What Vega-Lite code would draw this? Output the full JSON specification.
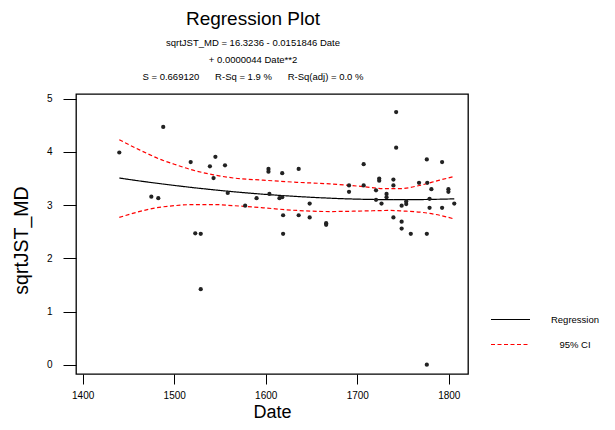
{
  "$schema": "https://vega.github.io/schema/vega-lite/v6.json",
  "width": 392,
  "height": 280,
  "autosize": "none",
  "padding": {"left": 76, "top": 94, "right": 147, "bottom": 56},
  "background": "white",
  "config": {
    "font": "Liberation Sans",
    "view": {"stroke": "black", "strokeWidth": 1.3},
    "legend": {
      "orient": "none",
      "legendX": 414,
      "legendY": 205,
      "symbolType": "stroke",
      "symbolSize": 1521,
      "symbolStrokeWidth": 1.2,
      "labelFontSize": 9.5,
      "labelColor": "black",
      "labelAlign": "center",
      "labelOffset": 44,
      "rowPadding": -19,
      "title": null
    }
  },
  "title": {
    "text": "Regression Plot",
    "subtitle": [
      "sqrtJST_MD = 16.3236 - 0.0151846 Date",
      "+ 0.0000044 Date**2",
      "S = 0.669120\u00a0\u00a0\u00a0\u00a0\u00a0\u00a0R-Sq = 1.9 %\u00a0\u00a0\u00a0\u00a0\u00a0\u00a0R-Sq(adj) = 0.0 %"
    ],
    "fontSize": 19,
    "fontWeight": "normal",
    "color": "black",
    "subtitleFontSize": 9.5,
    "subtitleColor": "black",
    "subtitleLineHeight": 17,
    "subtitlePadding": 9,
    "anchor": "middle",
    "frame": "group",
    "dx": -19,
    "offset": 12
  },
  "datasets": {
    "points": [
      {"Date": 1440, "value": 3.99}, {"Date": 1475, "value": 3.16}, {"Date": 1482.6, "value": 3.13},
      {"Date": 1488, "value": 4.47}, {"Date": 1518, "value": 3.81}, {"Date": 1523, "value": 2.47},
      {"Date": 1529, "value": 2.46}, {"Date": 1529, "value": 1.42}, {"Date": 1539, "value": 3.73},
      {"Date": 1543, "value": 3.51}, {"Date": 1545, "value": 3.91}, {"Date": 1555.5, "value": 3.75},
      {"Date": 1558.5, "value": 3.23}, {"Date": 1577.5, "value": 2.99}, {"Date": 1590, "value": 3.13},
      {"Date": 1603, "value": 3.68}, {"Date": 1603, "value": 3.63}, {"Date": 1604, "value": 3.21},
      {"Date": 1615, "value": 3.13}, {"Date": 1618, "value": 3.6}, {"Date": 1618, "value": 3.15},
      {"Date": 1619, "value": 2.81}, {"Date": 1619, "value": 2.46}, {"Date": 1636, "value": 3.68},
      {"Date": 1636, "value": 2.81}, {"Date": 1648, "value": 3.03}, {"Date": 1648, "value": 2.77},
      {"Date": 1666, "value": 2.66}, {"Date": 1666, "value": 2.63}, {"Date": 1691, "value": 3.37},
      {"Date": 1691, "value": 3.25}, {"Date": 1707, "value": 3.77}, {"Date": 1707, "value": 3.37},
      {"Date": 1720.5, "value": 3.28}, {"Date": 1720.5, "value": 3.1}, {"Date": 1724, "value": 3.5},
      {"Date": 1724, "value": 3.46}, {"Date": 1726.5, "value": 3.03}, {"Date": 1732, "value": 3.21},
      {"Date": 1732, "value": 3.15}, {"Date": 1739.5, "value": 3.48}, {"Date": 1739.5, "value": 3.37},
      {"Date": 1739.5, "value": 2.77}, {"Date": 1742.5, "value": 4.75}, {"Date": 1742.5, "value": 4.08},
      {"Date": 1748.5, "value": 2.99}, {"Date": 1748.5, "value": 2.69}, {"Date": 1748.5, "value": 2.56},
      {"Date": 1753.5, "value": 3.07}, {"Date": 1753.5, "value": 3.02}, {"Date": 1758.5, "value": 2.46},
      {"Date": 1767.5, "value": 3.42}, {"Date": 1776, "value": 3.86}, {"Date": 1776.5, "value": 3.42},
      {"Date": 1776, "value": 2.46}, {"Date": 1776, "value": 0.0}, {"Date": 1779, "value": 3.12},
      {"Date": 1779, "value": 2.95}, {"Date": 1781, "value": 3.3}, {"Date": 1792.7, "value": 3.81},
      {"Date": 1792.7, "value": 2.95}, {"Date": 1799.6, "value": 3.3}, {"Date": 1799.6, "value": 3.25},
      {"Date": 1806, "value": 3.03}
    ],
    "curves": [
      {"series": "Regression", "band": "fit", "Date": 1440, "value": 3.51},
      {"series": "Regression", "band": "fit", "Date": 1460, "value": 3.46},
      {"series": "Regression", "band": "fit", "Date": 1480, "value": 3.414},
      {"series": "Regression", "band": "fit", "Date": 1500, "value": 3.371},
      {"series": "Regression", "band": "fit", "Date": 1520, "value": 3.331},
      {"series": "Regression", "band": "fit", "Date": 1540, "value": 3.294},
      {"series": "Regression", "band": "fit", "Date": 1560, "value": 3.26},
      {"series": "Regression", "band": "fit", "Date": 1580, "value": 3.229},
      {"series": "Regression", "band": "fit", "Date": 1600, "value": 3.202},
      {"series": "Regression", "band": "fit", "Date": 1620, "value": 3.178},
      {"series": "Regression", "band": "fit", "Date": 1640, "value": 3.157},
      {"series": "Regression", "band": "fit", "Date": 1660, "value": 3.139},
      {"series": "Regression", "band": "fit", "Date": 1680, "value": 3.124},
      {"series": "Regression", "band": "fit", "Date": 1700, "value": 3.113},
      {"series": "Regression", "band": "fit", "Date": 1720, "value": 3.106},
      {"series": "Regression", "band": "fit", "Date": 1740, "value": 3.102},
      {"series": "Regression", "band": "fit", "Date": 1760, "value": 3.103},
      {"series": "Regression", "band": "fit", "Date": 1780, "value": 3.108},
      {"series": "Regression", "band": "fit", "Date": 1806, "value": 3.118},
      {"series": "95% CI", "band": "upper", "Date": 1440, "value": 4.23},
      {"series": "95% CI", "band": "upper", "Date": 1462, "value": 4.04},
      {"series": "95% CI", "band": "upper", "Date": 1488, "value": 3.84},
      {"series": "95% CI", "band": "upper", "Date": 1500, "value": 3.77},
      {"series": "95% CI", "band": "upper", "Date": 1518, "value": 3.67},
      {"series": "95% CI", "band": "upper", "Date": 1543, "value": 3.57},
      {"series": "95% CI", "band": "upper", "Date": 1565, "value": 3.51},
      {"series": "95% CI", "band": "upper", "Date": 1597, "value": 3.47},
      {"series": "95% CI", "band": "upper", "Date": 1634, "value": 3.43},
      {"series": "95% CI", "band": "upper", "Date": 1670, "value": 3.4},
      {"series": "95% CI", "band": "upper", "Date": 1706, "value": 3.35},
      {"series": "95% CI", "band": "upper", "Date": 1730, "value": 3.31},
      {"series": "95% CI", "band": "upper", "Date": 1747, "value": 3.31},
      {"series": "95% CI", "band": "upper", "Date": 1768, "value": 3.37},
      {"series": "95% CI", "band": "upper", "Date": 1790, "value": 3.47},
      {"series": "95% CI", "band": "upper", "Date": 1806, "value": 3.54},
      {"series": "95% CI", "band": "lower", "Date": 1440, "value": 2.77},
      {"series": "95% CI", "band": "lower", "Date": 1460, "value": 2.87},
      {"series": "95% CI", "band": "lower", "Date": 1477, "value": 2.94},
      {"series": "95% CI", "band": "lower", "Date": 1500, "value": 2.99},
      {"series": "95% CI", "band": "lower", "Date": 1520, "value": 3.01},
      {"series": "95% CI", "band": "lower", "Date": 1545, "value": 3.01},
      {"series": "95% CI", "band": "lower", "Date": 1565, "value": 2.99},
      {"series": "95% CI", "band": "lower", "Date": 1597, "value": 2.95},
      {"series": "95% CI", "band": "lower", "Date": 1634, "value": 2.9},
      {"series": "95% CI", "band": "lower", "Date": 1670, "value": 2.88},
      {"series": "95% CI", "band": "lower", "Date": 1706, "value": 2.89},
      {"series": "95% CI", "band": "lower", "Date": 1736, "value": 2.9},
      {"series": "95% CI", "band": "lower", "Date": 1750, "value": 2.89},
      {"series": "95% CI", "band": "lower", "Date": 1768, "value": 2.87},
      {"series": "95% CI", "band": "lower", "Date": 1790, "value": 2.81},
      {"series": "95% CI", "band": "lower", "Date": 1806, "value": 2.74}
    ]
  },
  "encoding": {
    "x": {
      "field": "Date",
      "type": "quantitative",
      "title": "Date",
      "scale": {"domain": [1392.7, 1821], "nice": false, "zero": false},
      "axis": {
        "values": [1400, 1500, 1600, 1700, 1800],
        "format": "d",
        "grid": false,
        "domain": false,
        "tickSize": 10,
        "tickColor": "black",
        "labelPadding": 6,
        "labelFontSize": 10,
        "labelColor": "black",
        "titleFontSize": 18,
        "titleFontWeight": "normal",
        "titleColor": "black",
        "titlePadding": 3
      }
    },
    "y": {
      "field": "value",
      "type": "quantitative",
      "title": "sqrtJST_MD",
      "scale": {"domain": [-0.175, 5.09], "nice": false, "zero": false},
      "axis": {
        "values": [0, 1, 2, 3, 4, 5],
        "grid": false,
        "domain": false,
        "tickSize": 13,
        "tickColor": "black",
        "labelPadding": 11,
        "labelFontSize": 10,
        "labelColor": "black",
        "titleFontSize": 19.5,
        "titleFontWeight": "normal",
        "titleColor": "black",
        "titlePadding": 15,
        "titleY": 146
      }
    }
  },
  "layer": [
    {
      "data": {"name": "curves"},
      "mark": {"type": "line", "strokeWidth": 1.2, "interpolate": "monotone"},
      "encoding": {
        "detail": {"field": "band"},
        "color": {
          "field": "series",
          "type": "nominal",
          "scale": {"domain": ["Regression", "95% CI"], "range": ["black", "red"]},
          "legend": {
            "title": null,
            "encode": {
              "symbols": {
                "update": {
                  "strokeDash": {"signal": "datum.value === '95% CI' ? [3, 1.5] : [1, 0]"}
                }
              }
            }
          }
        },
        "strokeDash": {
          "field": "series",
          "type": "nominal",
          "scale": {"domain": ["Regression", "95% CI"], "range": [[1, 0], [4, 2.5]]},
          "legend": null
        }
      }
    },
    {
      "data": {"name": "points"},
      "mark": {"type": "circle", "size": 18, "color": "#222222", "opacity": 1}
    }
  ]
}
